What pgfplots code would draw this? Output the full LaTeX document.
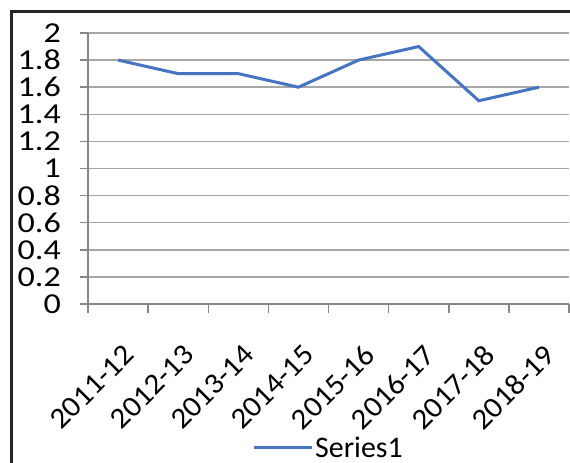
\documentclass[border=0pt]{standalone}
\usepackage{pgfplots}
\pgfplotsset{compat=1.18}
\usepackage{fontspec}
\setmainfont{Carlito}
\newfontfamily\tickfont[FakeStretch=1.18]{Carlito}
\newfontfamily\xtickfont[FakeStretch=1.06]{Carlito}
\definecolor{serie}{HTML}{4674C1}
\definecolor{gridc}{HTML}{A6A6A6}
\definecolor{axc}{HTML}{868686}
\begin{document}
\begin{tikzpicture}[x=1bp,y=1bp]
\useasboundingbox (0,0) rectangle (570,463);
\clip (0,0) rectangle (570,463);
\fill[white] (0,0) rectangle (570,463);
\draw[line width=2.5bp, color=black!85] (11.5,-10) -- (11.5,451.7) -- (600,451.7);
\begin{axis}[
  at={(88bp,159bp)}, anchor=south west, scale only axis,
  width=481bp, height=271bp,
  xmin=0, xmax=8, ymin=0, ymax=2,
  axis x line=bottom, axis y line=left,
  axis line style={-, draw=axc, line width=1.5bp},
  clip=false,
  xtick={0.5,1.5,2.5,3.5,4.5,5.5,6.5,7.5},
  xticklabels={2011-12,2012-13,2013-14,2014-15,2015-16,2016-17,2017-18,2018-19},
  minor xtick={0,1,2,3,4,5,6,7,8},
  tick align=outside,
  major tick length=8bp, minor tick length=9bp,
  x tick style={draw=none},
  minor x tick style={draw=axc, line width=1.5bp},
  y tick style={draw=axc, line width=1.5bp},
  ytick={0,0.2,0.4,0.6,0.8,1,1.2,1.4,1.6,1.8,2},
  yticklabels={0,0.2,0.4,0.6,0.8,1,1.2,1.4,1.6,1.8,2},
  ymajorgrids, grid style={draw=gridc, line width=1.5bp},
  yticklabel style={font=\tickfont\fontsize{29}{32}\selectfont, anchor=east, inner sep=0pt, xshift=-19bp},
  xticklabel style={font=\xtickfont\fontsize{29.5}{32}\selectfont, anchor=north east, inner sep=0pt, xshift=4bp, yshift=-31bp, rotate=45},
  legend style={at={(0.5,-0.53)}, anchor=center, draw=none, fill=none,
     font=\fontsize{30}{32}\selectfont, inner sep=0pt},
  legend image code/.code={\draw[#1] (0bp,0bp) -- (58bp,0bp);},
]
\addplot[serie, line width=3bp, mark=none] coordinates {
(0.5,1.8) (1.5,1.7) (2.5,1.7) (3.5,1.6) (4.5,1.8) (5.5,1.9) (6.5,1.5) (7.5,1.6)};
\addlegendentry{\fontsize{30}{32}\selectfont Series1}
\end{axis}
\end{tikzpicture}
\end{document}
